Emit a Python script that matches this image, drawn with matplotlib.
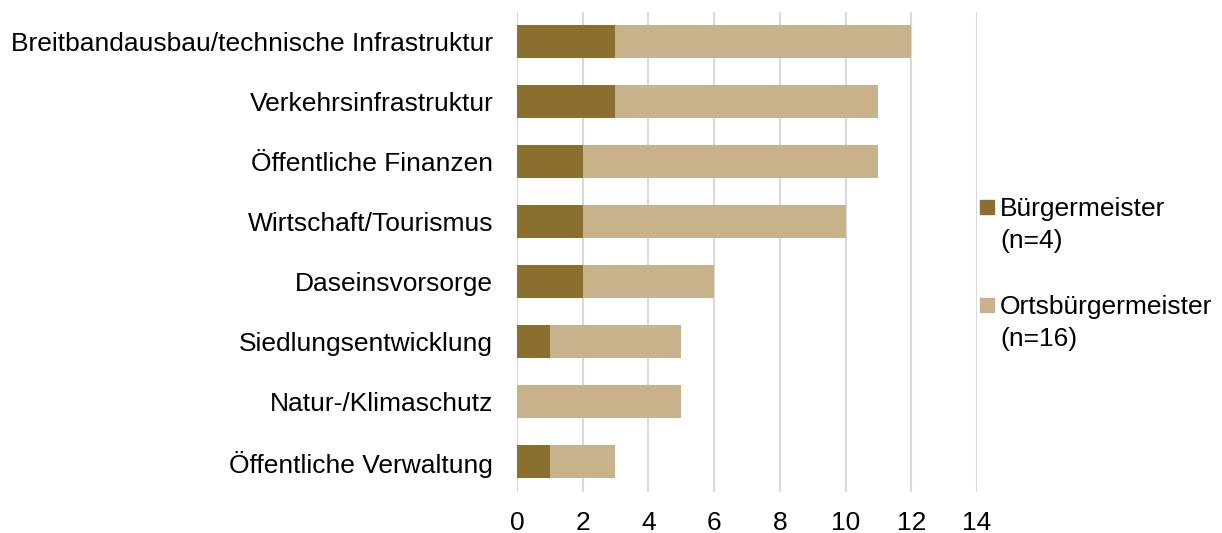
import matplotlib.pyplot as plt
from matplotlib.patches import Rectangle

plt.rcParams['font.family'] = ['Liberation Sans', 'DejaVu Sans']

categories = ['Breitbandausbau/technische Infrastruktur', 'Verkehrsinfrastruktur',
              'Öffentliche Finanzen', 'Wirtschaft/Tourismus', 'Daseinsvorsorge',
              'Siedlungsentwicklung', 'Natur-/Klimaschutz', 'Öffentliche Verwaltung']
buergermeister = [3, 3, 2, 2, 2, 1, 0, 1]
ortsbuergermeister = [9, 8, 9, 8, 4, 4, 5, 2]
series_labels = ['Bürgermeister\n(n=4)', 'Ortsbürgermeister\n(n=16)']
colors = ['#8B6F2E', '#C7B28B']

fig = plt.figure(figsize=(12.22, 5.33), dpi=100)
ax = fig.add_axes([0.423, 0.077, 0.3765, 0.9005])

y = list(range(len(categories)))
ax.barh(y, buergermeister, height=0.55, color=colors[0], zorder=3)
ax.barh(y, ortsbuergermeister, left=buergermeister, height=0.55, color=colors[1], zorder=3)

ax.set_ylim(len(categories) - 0.5, -0.5)
ax.set_xlim(0, 14)
ax.set_xticks(range(0, 15, 2))
ax.set_yticks(y)
ax.set_yticklabels(categories)
ax.tick_params(axis='y', length=0, pad=17, labelsize=19)
ax.tick_params(axis='x', length=0, pad=14, labelsize=19)
ax.grid(axis='x', color='#D9D9D9', linewidth=1.5, zorder=0)
for s in ax.spines.values():
    s.set_visible(False)

# legend drawn by hand so the swatch sits next to the first line of each label
legend_y = [207, 305]
for lbl, c, py in zip(series_labels, colors, legend_y):
    fig.add_artist(Rectangle((980 / 1222, 1 - (py + 7) / 533), 14 / 1222, 14 / 533,
                             transform=fig.transFigure, color=c))
    fig.text(1000 / 1222, 1 - (py - 10) / 533, lbl, fontsize=19, va='top',
             ha='left', linespacing=1.4)

fig.savefig('out.png', dpi=100)
